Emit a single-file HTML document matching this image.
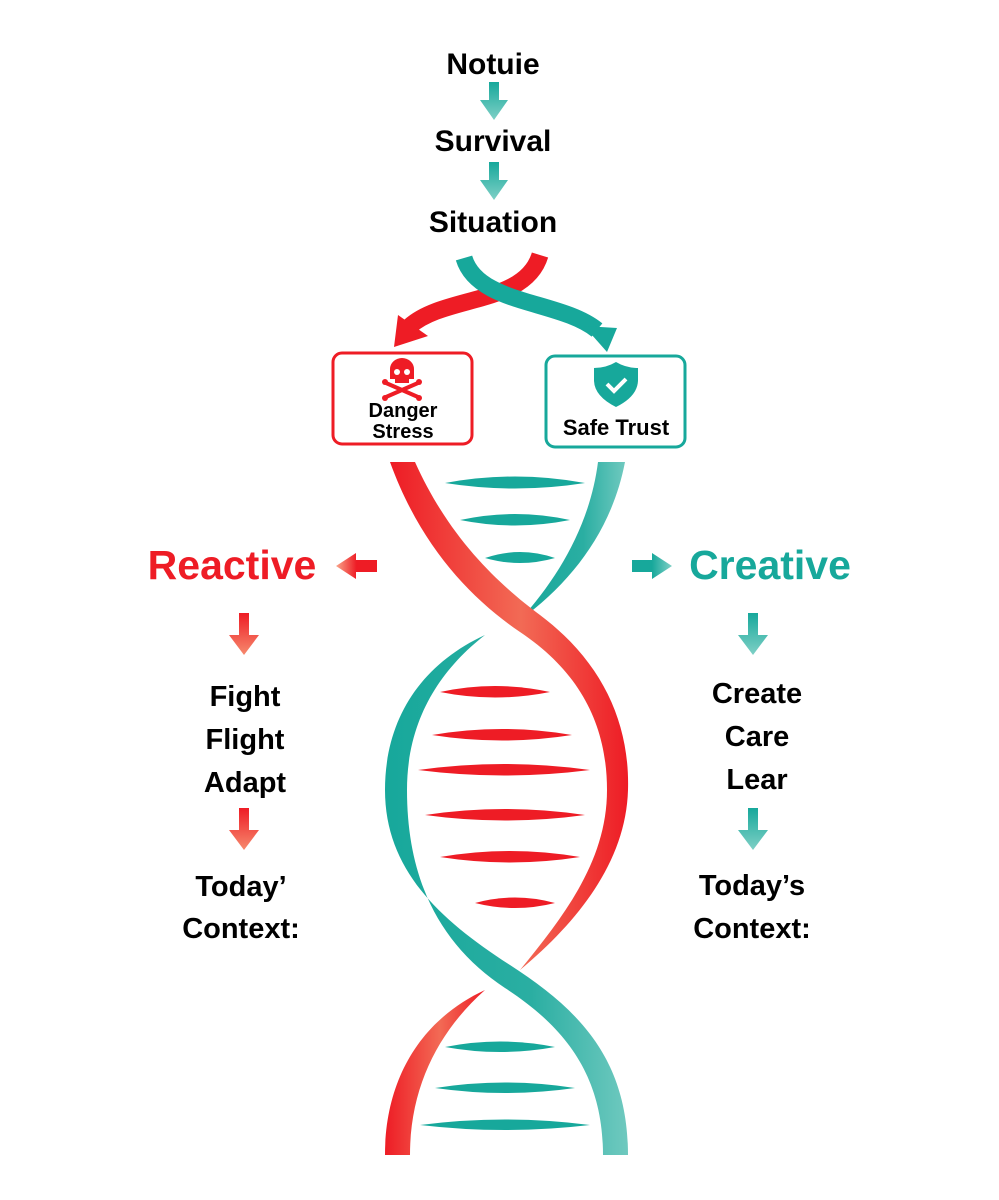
<!DOCTYPE html>
<html><head><meta charset="utf-8"><style>
html,body{margin:0;padding:0;background:#fff;}
svg{display:block}
text{font-family:"Liberation Sans",sans-serif;font-weight:bold;}
</style></head><body>
<svg width="999" height="1200" viewBox="0 0 999 1200" xmlns="http://www.w3.org/2000/svg">
<defs>
<linearGradient id="rg" x1="0" y1="0" x2="1" y2="0"><stop offset="0" stop-color="#ee1c25"/><stop offset="0.55" stop-color="#f26a55"/><stop offset="1" stop-color="#ee1c25"/></linearGradient>
<linearGradient id="tg" x1="0" y1="0" x2="1" y2="0"><stop offset="0" stop-color="#17a89b"/><stop offset="0.6" stop-color="#2aaea2"/><stop offset="1" stop-color="#6fc9bf"/></linearGradient>
<linearGradient id="rav" x1="0" y1="0" x2="0" y2="1"><stop offset="0" stop-color="#ee1c25"/><stop offset="1" stop-color="#f68a6e"/></linearGradient>
<linearGradient id="tav" x1="0" y1="0" x2="0" y2="1"><stop offset="0" stop-color="#17a89b"/><stop offset="1" stop-color="#7fd0c6"/></linearGradient>
<linearGradient id="rah" x1="1" y1="0" x2="0" y2="0"><stop offset="0" stop-color="#ee1c25"/><stop offset="0.5" stop-color="#ee1c25"/><stop offset="1" stop-color="#f9a58a"/></linearGradient>
<linearGradient id="tah" x1="0" y1="0" x2="1" y2="0"><stop offset="0" stop-color="#17a89b"/><stop offset="0.5" stop-color="#17a89b"/><stop offset="1" stop-color="#7fd0c6"/></linearGradient>
</defs>

<text x="493" y="74" font-size="30" text-anchor="middle">Notuie</text>
<text x="493" y="151" font-size="30" text-anchor="middle">Survival</text>
<text x="493" y="232" font-size="30" text-anchor="middle">Situation</text>
<g fill="url(#tav)">
<polygon points="489,82 499,82 499,100 508,100 494,120 480,100 489,100"/>
<polygon points="489,162 499,162 499,180 508,180 494,200 480,180 489,180"/>
</g>

<path d="M540,255 C525,305 445,295 410,326" stroke="#ee1c25" stroke-width="17" fill="none"/>
<polygon points="394,347 398,315 428,336" fill="#ee1c25"/>
<path d="M464,258 C478,305 560,300 597,330" stroke="#17a89b" stroke-width="17" fill="none"/>
<polygon points="607,352 584,326 617,328" fill="#17a89b"/>

<rect x="333" y="353" width="139" height="91" rx="9" fill="#fff" stroke="#ee1c25" stroke-width="3"/>
<rect x="546" y="356" width="139" height="91" rx="9" fill="#fff" stroke="#17a89b" stroke-width="3"/>
<g fill="#ee1c25">
<path d="M390,369 a12,11 0 0 1 24,0 v10 h-5 v4 h-14 v-4 h-5 z"/>
<path d="M386,383 L418,397 M418,383 L386,397" stroke="#ee1c25" stroke-width="4"/>
<circle cx="385" cy="382" r="3"/><circle cx="419" cy="382" r="3"/><circle cx="385" cy="398" r="3"/><circle cx="419" cy="398" r="3"/>
</g>
<circle cx="397" cy="372" r="3" fill="#fff"/><circle cx="407" cy="372" r="3" fill="#fff"/>
<text x="403" y="417" font-size="20" text-anchor="middle">Danger</text>
<text x="403" y="438" font-size="20" text-anchor="middle">Stress</text>
<path d="M616,362 q10,6 22,6 v12 q0,16 -22,27 q-22,-11 -22,-27 v-12 q12,0 22,-6 z" fill="#17a89b"/>
<path d="M607,384 l7,7 l12,-12" stroke="#fff" stroke-width="4" fill="none"/>
<text x="616" y="435" font-size="22" text-anchor="middle">Safe Trust</text>

<g fill="#17a89b">
<path d="M445,483 Q515,470 585,483 Q515,494 445,483Z"/>
<path d="M460,520 Q515,508 570,520 Q515,531 460,520Z"/>
<path d="M485,558 Q520,546 555,558 Q520,568 485,558Z"/>
</g>
<path d="M598,462 L625,462 C612,530 572,582 520,620 C558,578 590,525 598,462Z" fill="url(#tg)"/>
<g fill="#ee1c25">
<path d="M440,692 Q495,680 550,692 Q495,703 440,692Z"/>
<path d="M432,735 Q502,723 572,735 Q502,746 432,735Z"/>
<path d="M418,770 Q504,758 590,770 Q504,781 418,770Z"/>
<path d="M425,815 Q505,803 585,815 Q505,826 425,815Z"/>
<path d="M440,857 Q510,845 580,857 Q510,868 440,857Z"/>
<path d="M475,903 Q515,892 555,903 Q515,913 475,903Z"/>
</g>
<path d="M485,635 C420,665 385,720 385,790 C385,870 440,920 510,965 C580,1010 628,1060 628,1155 L603,1155 C603,1080 570,1030 505,988 C440,945 407,880 407,790 C407,720 440,670 485,635Z" fill="url(#tg)"/>
<path d="M390,462 L415,462 C450,540 500,585 540,615 C600,660 630,720 628,790 C626,860 580,920 520,970 C565,915 607,860 607,790 C607,725 580,672 520,632 C470,598 420,545 390,462Z" fill="url(#rg)"/>
<g fill="#17a89b">
<path d="M445,1047 Q500,1036 555,1047 Q500,1057 445,1047Z"/>
<path d="M435,1088 Q505,1077 575,1088 Q505,1098 435,1088Z"/>
<path d="M420,1125 Q505,1114 590,1125 Q505,1135 420,1125Z"/>
</g>
<path d="M485,990 C420,1020 385,1080 385,1155 L410,1155 C410,1085 440,1030 485,990Z" fill="url(#rg)"/>

<text x="232" y="579" font-size="41" fill="#ee1c25" text-anchor="middle">Reactive</text>
<polygon points="377,560 377,572 356,572 356,579 336,566 356,553 356,560" fill="url(#rah)"/>
<polygon points="239,613 249,613 249,635 259,635 244,655 229,635 239,635" fill="url(#rav)"/>
<g font-size="29" text-anchor="middle">
<text x="245" y="706">Fight</text>
<text x="245" y="749">Flight</text>
<text x="245" y="792">Adapt</text>
<text x="241" y="896">Today’</text>
<text x="241" y="938">Context:</text>
</g>
<polygon points="239,808 249,808 249,830 259,830 244,850 229,830 239,830" fill="url(#rav)"/>

<text x="770" y="579" font-size="41" fill="#17a89b" text-anchor="middle">Creative</text>
<polygon points="632,560 652,560 652,553 672,566 652,579 652,572 632,572" fill="url(#tah)"/>
<polygon points="748,613 758,613 758,635 768,635 753,655 738,635 748,635" fill="url(#tav)"/>
<g font-size="29" text-anchor="middle">
<text x="757" y="703">Create</text>
<text x="757" y="746">Care</text>
<text x="757" y="789">Lear</text>
<text x="752" y="895">Today’s</text>
<text x="752" y="938">Context:</text>
</g>
<polygon points="748,808 758,808 758,830 768,830 753,850 738,830 748,830" fill="url(#tav)"/>
</svg>
</body></html>
